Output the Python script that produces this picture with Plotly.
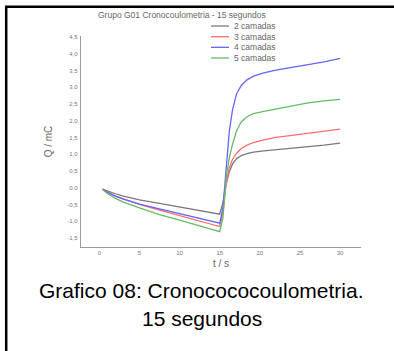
import plotly.graph_objects as go

# ---- data ----
t_s = [0.4, 1.0, 2.0, 3, 5, 7.5, 10, 12.5, 15, 15.4, 15.8, 16.2, 16.6, 17.1, 17.7,
       18.4, 19.2, 20.5, 22, 24, 26, 28, 30]
q_2_camadas = [-0.04, -0.10, -0.18, -0.25, -0.36, -0.47, -0.58, -0.69, -0.79, -0.45, 0.10,
               0.48, 0.71, 0.87, 0.96, 1.02, 1.06, 1.10, 1.13, 1.17, 1.22, 1.27, 1.33]
q_3_camadas = [-0.04, -0.13, -0.25, -0.34, -0.50, -0.67, -0.84, -1.00, -1.16, -0.75, 0.13,
               0.60, 0.85, 1.03, 1.17, 1.27, 1.35, 1.43, 1.50, 1.56, 1.63, 1.69, 1.75]
q_4_camadas = [-0.04, -0.13, -0.25, -0.34, -0.49, -0.63, -0.79, -0.93, -1.06, -0.60, 0.70,
               1.70, 2.33, 2.80, 3.06, 3.22, 3.33, 3.43, 3.51, 3.59, 3.68, 3.76, 3.86]
q_5_camadas = [-0.05, -0.17, -0.32, -0.43, -0.60, -0.80, -0.97, -1.14, -1.31, -0.90, 0.30,
               0.90, 1.30, 1.70, 1.97, 2.12, 2.21, 2.28, 2.35, 2.43, 2.53, 2.59, 2.64]
series_names = ["2 camadas", "3 camadas", "4 camadas", "5 camadas"]
series_values = [q_2_camadas, q_3_camadas, q_4_camadas, q_5_camadas]
x_tick_values = [0, 5, 10, 15, 20, 25, 30]
x_tick_labels = ["0", "5", "10", "15", "20", "25", "30"]
y_tick_values = [-1.5, -1.0, -0.5, 0.0, 0.5, 1.0, 1.5, 2.0, 2.5, 3.0, 3.5, 4.0, 4.5]
y_tick_labels = ["-1,5", "-1,0", "-0,5", "0,0", "0,5", "1,0", "1,5", "2,0", "2,5",
                 "3,0", "3,5", "4,0", "4,5"]

colors = ["#7a7a7a", "#ff6e6e", "#6464ff", "#66bb66"]

# ---- layout geometry (pixels) ----
W, H = 394, 351
ML, MR, MT, MB = 81, 33, 36, 104
PW, PH = W - ML - MR, H - MT - MB


def px_x(px):
    return (px - ML) / PW


def px_y(py):
    return (H - MB - py) / PH


fig = go.Figure()
for name, vals, col in zip(series_names, series_values, colors):
    fig.add_trace(go.Scatter(x=t_s, y=vals, mode="lines", name=name,
                             line=dict(color=col, width=1.3), showlegend=False))

small = "Liberation Sans, Arial, sans-serif"
shapes = []
annotations = []

# manual compact legend
legend_rows = [26, 36.7, 47.3, 58]
for name, col, ry in zip(series_names, colors, legend_rows):
    shapes.append(dict(type="line", xref="paper", yref="paper",
                       x0=px_x(211), x1=px_x(229), y0=px_y(ry), y1=px_y(ry),
                       line=dict(color=col, width=1.3)))
    annotations.append(dict(text=name, xref="paper", yref="paper",
                            x=px_x(232), y=px_y(ry), xanchor="left", yanchor="middle",
                            showarrow=False, font=dict(family=small, size=8.5, color="#666")))

# chart title
annotations.append(dict(text="Grupo G01 Cronocoulometria - 15 segundos", xref="paper", yref="paper",
                        x=px_x(182), y=px_y(15), xanchor="center", yanchor="middle",
                        showarrow=False, font=dict(family=small, size=8.5, color="#666")))

# caption
annotations.append(dict(text="Grafico 08: Cronocococoulometria.", xref="paper", yref="paper",
                        x=px_x(201.5), y=px_y(290), xanchor="center", yanchor="middle",
                        showarrow=False, font=dict(family=small, size=21, color="black")))
annotations.append(dict(text="15 segundos", xref="paper", yref="paper",
                        x=px_x(201.5), y=px_y(318.5), xanchor="center", yanchor="middle",
                        showarrow=False, font=dict(family=small, size=21, color="black")))

# outer black frame
shapes.append(dict(type="rect", xref="paper", yref="paper",
                   x0=px_x(6.2), x1=px_x(410), y0=px_y(370), y1=px_y(6.7),
                   line=dict(color="black", width=2.5), fillcolor="rgba(0,0,0,0)"))

fig.update_layout(
    width=W, height=H,
    margin=dict(l=ML, r=MR, t=MT, b=MB, pad=0),
    paper_bgcolor="white", plot_bgcolor="white",
    showlegend=False,
    shapes=shapes, annotations=annotations,
    xaxis=dict(range=[-2.28, 32.6], tickvals=x_tick_values, ticktext=x_tick_labels, ticks="",
               showgrid=False, zeroline=False, showline=True,
               linecolor="#9a9a9a", linewidth=1.3,
               tickfont=dict(family=small, size=6, color="#777"),
               title=dict(text="t / s", standoff=4,
                          font=dict(family=small, size=10, color="#666"))),
    yaxis=dict(range=[-1.77, 4.53], tickvals=y_tick_values, ticktext=y_tick_labels, ticks="",
               showgrid=False, zeroline=False, showline=True,
               linecolor="#9a9a9a", linewidth=1.3, ticklabelstandoff=1,
               tickfont=dict(family=small, size=6, color="#777"),
               title=dict(text="Q / mC", standoff=12,
                          font=dict(family=small, size=10, color="#666"))),
)

fig.write_html("out.html", config={"displayModeBar": False},
               post_script="document.body.style.margin='0px';document.body.style.overflow='hidden';")
